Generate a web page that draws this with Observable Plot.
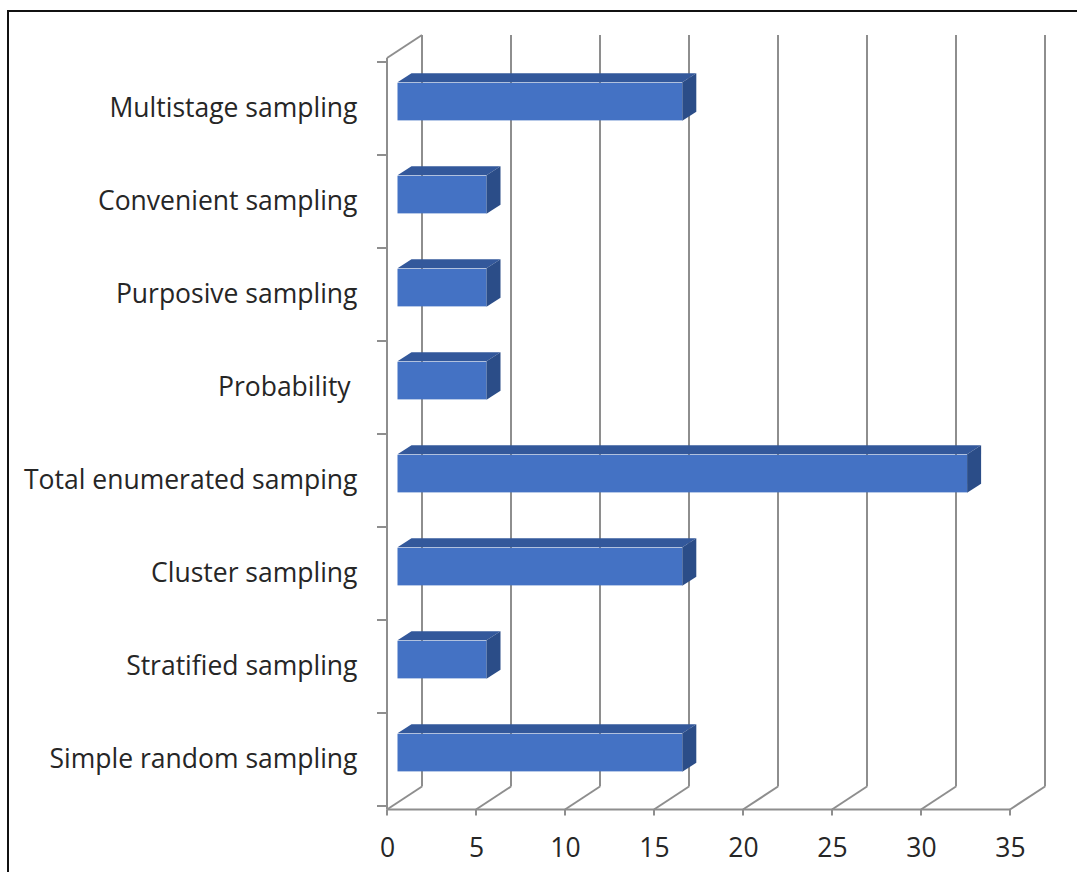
<!DOCTYPE html>
<html>
<head>
<meta charset="utf-8">
<script src="https://cdn.jsdelivr.net/npm/d3@7"></script>
<script src="https://cdn.jsdelivr.net/npm/@observablehq/plot@0.6"></script>
<style>
  html, body { margin: 0; padding: 0; background: #fff; }
  #wrap { position: relative; width: 1077px; height: 872px; overflow: hidden; }
  #frame { position: absolute; left: 7px; top: 10px; right: -4px; bottom: -4px;
           border-top: 2px solid #111; border-left: 2px solid #111; }
  #wrap svg { position: absolute; left: 0; top: 0; }
</style>
</head>
<body>
<div id="wrap"><div id="frame"></div></div>
<script>
// Sampling techniques, listed top to bottom
const categories = [
  "Multistage sampling",
  "Convenient sampling",
  "Purposive sampling",
  "Probability ",
  "Total enumerated samping",
  "Cluster sampling",
  "Stratified sampling",
  "Simple random sampling"
];
const counts = [16, 5, 5, 5, 32, 16, 5, 16];
const xTicks = [0, 5, 10, 15, 20, 25, 30, 35];

const data = categories.map((category, i) => ({category, value: counts[i]}));

// pseudo-3D geometry (pixels)
const DX = 35, DY = -23;      // depth of the plot box
const F0 = 0.3, F1 = 0.7;     // bars occupy this slice of the depth
const BAR_H = 38.5;           // bar thickness
const GRID = "#8e8e8e";
const FRONT = "#4472c4", TOP = "#33589b", SIDE = "#2b4d88";

function bandOf(y, dims) {
  return typeof y.bandwidth === "function"
    ? y.bandwidth()
    : (dims.height - dims.marginTop - dims.marginBottom) / categories.length;
}

// back wall gridlines, floor diagonals, left wall edges and ticks
function box(index, scales, values, dims) {
  const {x, y} = scales;
  const top = dims.marginTop, bottom = dims.height - dims.marginBottom;
  const bw = bandOf(y, dims);
  const g = d3.create("svg:g")
    .attr("fill", "none").attr("stroke", GRID).attr("stroke-width", 2);
  const line = (x1, y1, x2, y2) =>
    g.append("line").attr("x1", x1).attr("y1", y1).attr("x2", x2).attr("y2", y2);
  for (const v of xTicks) {
    line(x(v) + DX, top + DY, x(v) + DX, bottom + DY);
    line(x(v), bottom, x(v) + DX, bottom + DY);
    line(x(v), bottom, x(v), bottom + 6);
  }
  line(x(0), top, x(0), bottom);
  line(x(0), top, x(0) + DX, top + DY);
  line(x(0), bottom, x(xTicks[xTicks.length - 1]), bottom);
  const edges = categories.map(c => y(c)).concat([y(categories[categories.length - 1]) + bw]);
  for (const yy of edges) line(x(0) - 10, yy, x(0), yy);
  return g.node();
}

// top and end faces of each bar
function faces(index, scales, values, dims) {
  const {x, y} = scales;
  const bw = bandOf(y, dims);
  const ox = (F1 - F0) * DX, oy = (F1 - F0) * DY;
  const g = d3.create("svg:g");
  data.forEach(d => {
    const x0 = x(0) + F0 * DX, x1 = x(d.value) + F0 * DX;
    const yt = y(d.category) + (bw - BAR_H) / 2 + F0 * DY;
    const yb = yt + BAR_H;
    g.append("path").attr("fill", TOP)
      .attr("d", `M${x0},${yt}L${x1},${yt}L${x1 + ox},${yt + oy}L${x0 + ox},${yt + oy}Z`);
    g.append("path").attr("fill", SIDE)
      .attr("d", `M${x1},${yt}L${x1 + ox},${yt + oy}L${x1 + ox},${yb + oy}L${x1},${yb}Z`);
  });
  return g.node();
}

const H = 872, TOP_Y = 58, BOTTOM_Y = 809.5;
const bandPx = (BOTTOM_Y - TOP_Y) / categories.length;
const inset = (bandPx - BAR_H) / 2;

const chart = Plot.plot({
  width: 1077,
  height: H,
  marginTop: TOP_Y,
  marginBottom: H - BOTTOM_Y,
  marginLeft: 387,
  marginRight: 67,
  style: {fontFamily: "'Open Sans', Lato, sans-serif", fontSize: "26.5px", color: "#262626", background: "none", overflow: "visible"},
  x: {domain: [0, 35], ticks: xTicks, tickSize: 0, tickPadding: 28, label: null},
  y: {domain: categories, padding: 0, tickSize: 0, tickPadding: 30, label: null,
      tickFormat: d => d.replace(/ $/, "\u00a0")},
  marks: [
    box,
    Plot.barX(data, {x: "value", y: "category", fill: FRONT,
      dx: F0 * DX, dy: F0 * DY, insetTop: inset, insetBottom: inset}),
    faces
  ]
});
document.getElementById("wrap").appendChild(chart);
</script>
</body>
</html>
